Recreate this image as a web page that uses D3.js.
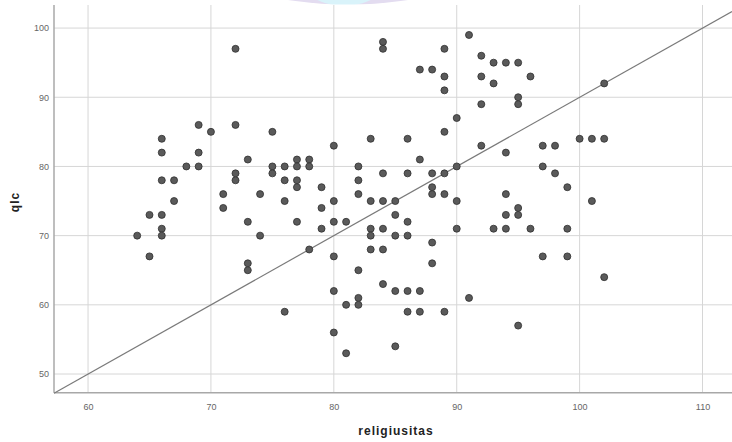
<!DOCTYPE html>
<html>
<head>
<meta charset="utf-8">
<script src="https://cdn.jsdelivr.net/npm/d3@7/dist/d3.min.js"></script>
<style>
  body { margin: 0; background: #fff; }
  svg { display: block; font-family: "Liberation Sans", Arial, sans-serif; }
</style>
</head>
<body>
<div id="chart"></div>
<script>
// religiusitas (x) and qlc (y), one entry per respondent
const religiusitas = [
  64, 65, 65, 66, 66, 66, 66, 66, 66, 67, 67, 68, 69, 69, 69, 70, 71, 71,
  72, 72, 72, 72, 73, 73, 73, 73, 74, 74, 75, 75, 75, 76, 76, 76, 76,
  77, 77, 77, 77, 77, 78, 78, 78, 79, 79, 79, 80, 80, 80, 80, 80, 80,
  81, 81, 81, 82, 82, 82, 82, 82, 82, 83, 83, 83, 83, 83,
  84, 84, 84, 84, 84, 84, 84, 85, 85, 85, 85, 85, 86, 86, 86, 86, 86, 86,
  87, 87, 87, 87, 88, 88, 88, 88, 88, 88, 89, 89, 89, 89, 89, 89, 89,
  90, 90, 90, 90, 91, 91, 92, 92, 92, 92, 93, 93, 93, 94, 94, 94, 94, 94,
  95, 95, 95, 95, 95, 95, 96, 96, 97, 97, 97, 98, 98, 99, 99, 99,
  100, 101, 101, 102, 102, 102
];
const qlc = [
  70, 73, 67, 84, 82, 78, 73, 71, 70, 78, 75, 80, 86, 82, 80, 85, 76, 74,
  97, 86, 79, 78, 81, 72, 66, 65, 76, 70, 85, 80, 79, 80, 78, 75, 59,
  81, 80, 78, 77, 72, 81, 80, 68, 77, 74, 71, 83, 75, 72, 67, 62, 56,
  72, 60, 53, 80, 78, 76, 65, 61, 60, 84, 75, 71, 70, 68,
  98, 97, 79, 75, 71, 68, 63, 75, 73, 70, 62, 54, 84, 79, 72, 70, 62, 59,
  94, 81, 62, 59, 94, 79, 77, 76, 69, 66, 97, 93, 91, 85, 79, 76, 59,
  87, 80, 75, 71, 99, 61, 96, 93, 89, 83, 95, 92, 71, 95, 82, 76, 73, 71,
  95, 90, 89, 74, 73, 57, 93, 71, 83, 80, 67, 83, 79, 77, 71, 67,
  84, 84, 75, 92, 84, 64
];
const xTicks = [60, 70, 80, 90, 100, 110];
const yTicks = [50, 60, 70, 80, 90, 100];
const xDomain = [57.23, 112.4];
const yDomain = [47.3, 102.9];
// reference line end points in data units
const refLine = [[57.23, 47.23], [112.4, 102.4]];

const width = 732, height = 442;
const pad = { l: 54, r: 0, t: 5, b: 49.3 };

const svg = d3.select("#chart").append("svg").attr("width", width).attr("height", height);

// faint logo watermark peeking in at the top edge
svg.append("ellipse").attr("cx", 348).attr("cy", -40).attr("rx", 137).attr("ry", 44.5).attr("fill", "#e3dcf0");
svg.append("ellipse").attr("cx", 344).attr("cy", -30).attr("rx", 48).attr("ry", 36).attr("fill", "#d9f3fa");
svg.append("rect").attr("x", 0).attr("y", 4.5).attr("width", width).attr("height", height).attr("fill", "#fff");

const x = d3.scaleLinear().domain(xDomain).range([pad.l, width - pad.r]);
const y = d3.scaleLinear().domain(yDomain).range([height - pad.b, pad.t + 3]);

const grid = svg.append("g").attr("stroke", "#d6d6d6").attr("stroke-width", 1);
grid.selectAll(".hx").data(yTicks).join("line")
  .attr("x1", pad.l).attr("x2", width)
  .attr("y1", (d) => y(d)).attr("y2", (d) => y(d));
grid.selectAll(".vx").data(xTicks).join("line")
  .attr("x1", (d) => x(d)).attr("x2", (d) => x(d))
  .attr("y1", pad.t).attr("y2", height - pad.b);

// axes (labels only, no tick marks)
const xAxis = svg.append("g")
  .attr("transform", `translate(0,${height - pad.b})`)
  .call(d3.axisBottom(x).tickValues(xTicks).tickSize(0).tickPadding(11));
const yAxis = svg.append("g")
  .attr("transform", `translate(${pad.l},0)`)
  .call(d3.axisLeft(y).tickValues(yTicks).tickSize(0).tickPadding(5));
[xAxis, yAxis].forEach((a) => {
  a.select(".domain").remove();
  a.selectAll("text").attr("font-size", 9).attr("fill", "#666").attr("font-family", "Liberation Sans, Arial, sans-serif");
});

svg.append("line").attr("x1", pad.l).attr("x2", pad.l).attr("y1", pad.t).attr("y2", height - pad.b)
  .attr("stroke", "#a8a8a8").attr("stroke-width", 1.5);
svg.append("line").attr("x1", pad.l).attr("x2", width).attr("y1", height - pad.b).attr("y2", height - pad.b)
  .attr("stroke", "#a8a8a8").attr("stroke-width", 1.5);

svg.append("line")
  .attr("x1", x(refLine[0][0])).attr("y1", y(refLine[0][1]))
  .attr("x2", x(refLine[1][0])).attr("y2", y(refLine[1][1]))
  .attr("stroke", "#7a7a7a").attr("stroke-width", 1.2);

svg.append("g").selectAll("circle").data(religiusitas).join("circle")
  .attr("cx", (d) => x(d))
  .attr("cy", (d, i) => y(qlc[i]))
  .attr("r", 3.5)
  .attr("fill", "#5a5a5a")
  .attr("stroke", "#2e2e2e")
  .attr("stroke-width", 0.8);

svg.append("text").text("religiusitas")
  .attr("x", 396).attr("y", 435)
  .attr("text-anchor", "middle").attr("font-size", 12).attr("font-weight", "bold")
  .attr("letter-spacing", 1).attr("fill", "#222");
svg.append("text").text("qlc")
  .attr("transform", "translate(19,202) rotate(-90)")
  .attr("text-anchor", "middle").attr("font-size", 12).attr("font-weight", "bold")
  .attr("letter-spacing", 1).attr("fill", "#222");
</script>
</body>
</html>
